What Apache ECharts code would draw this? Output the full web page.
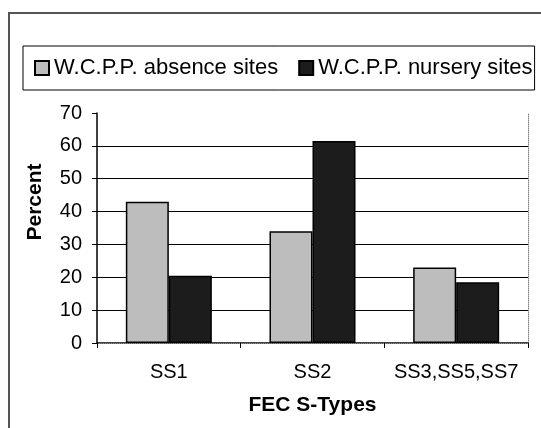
<!DOCTYPE html>
<html>
<head>
<meta charset="utf-8">
<script src="https://cdn.jsdelivr.net/npm/echarts@6/dist/echarts.min.js"></script>
<style>
  html, body { margin: 0; padding: 0; background: #fff; }
  #container { width: 541px; height: 428px; }
</style>
</head>
<body>
<div id="container"></div>
<script>
var categories = ['SS1', 'SS2', 'SS3,SS5,SS7'];
var absenceSites = [43, 34, 23];
var nurserySites = [20.5, 61.5, 18.5];
var seriesNames = ['W.C.P.P. absence sites', 'W.C.P.P. nursery sites'];

var myChart = echarts.init(document.getElementById('container'));
var font = '"Liberation Sans", Arial, sans-serif';

var option = {
    backgroundColor: '#fff',
    animation: false,
    textStyle: { fontFamily: font, color: '#000' },

    graphic: [{
        type: 'rect',
        shape: { x: 9, y: 13, width: 600, height: 500 },
        style: { fill: 'none', stroke: '#555', lineWidth: 2 }
    }],

    legend: {
        left: 23,
        top: 46,
        padding: [11, 2, 11, 11],
        borderColor: '#000',
        borderWidth: 1,
        icon: 'rect',
        itemWidth: 14,
        itemHeight: 14,
        itemGap: 20,
        textStyle: { fontSize: 22, fontFamily: font, color: '#000' },
        data: seriesNames
    },

    grid: {
        left: 97,
        right: 13,
        top: 113,
        bottom: 85
    },

    xAxis: [{
        type: 'category',
        data: categories,
        name: 'FEC S-Types',
        nameLocation: 'middle',
        nameGap: 52,
        nameTextStyle: { fontSize: 21, fontWeight: 'bold', fontFamily: font, color: '#000' },
        axisLine: { lineStyle: { color: '#000', width: 1.5 } },
        axisTick: { show: true, length: 5, lineStyle: { color: '#000' } },
        axisLabel: { interval: 0, fontSize: 20, fontFamily: font, color: '#000', margin: 19 }
    }, {
        type: 'category',
        data: categories,
        position: 'top',
        axisLine: { show: true, lineStyle: { color: '#888', type: 'dotted', width: 1 } },
        axisTick: { show: false },
        axisLabel: { show: false }
    }],

    yAxis: [{
        type: 'value',
        min: 0,
        max: 70,
        interval: 10,
        name: 'Percent',
        nameLocation: 'middle',
        nameGap: 51,
        nameTextStyle: { fontSize: 21, fontWeight: 'bold', fontFamily: font, color: '#000', padding: [0, 0, 0, 52] },
        axisLine: { show: true, lineStyle: { color: '#000', width: 1.5 } },
        axisTick: { show: true, length: 5, lineStyle: { color: '#000' } },
        axisLabel: { fontSize: 20, fontFamily: font, color: '#000', margin: 15 },
        splitLine: {
            show: true,
            lineStyle: { color: ['#000', '#000', '#000', '#000', '#000', '#000', '#000', 'rgba(0,0,0,0)'], width: 1 }
        }
    }, {
        type: 'value',
        min: 0,
        max: 70,
        interval: 10,
        position: 'right',
        axisLine: { show: true, lineStyle: { color: '#888', type: 'dotted', width: 1 } },
        axisTick: { show: false },
        axisLabel: { show: false },
        splitLine: { show: false }
    }],

    series: [{
        name: seriesNames[0],
        type: 'bar',
        data: absenceSites,
        barWidth: 43,
        barGap: '0%',
        itemStyle: { color: '#bdbdbd', borderColor: '#000', borderWidth: 1.5 }
    }, {
        name: seriesNames[1],
        type: 'bar',
        data: nurserySites,
        barWidth: 43,
        barGap: '0%',
        itemStyle: { color: '#1c1c1c', borderColor: '#000', borderWidth: 1.5 }
    }]
};

myChart.setOption(option);
</script>
</body>
</html>
